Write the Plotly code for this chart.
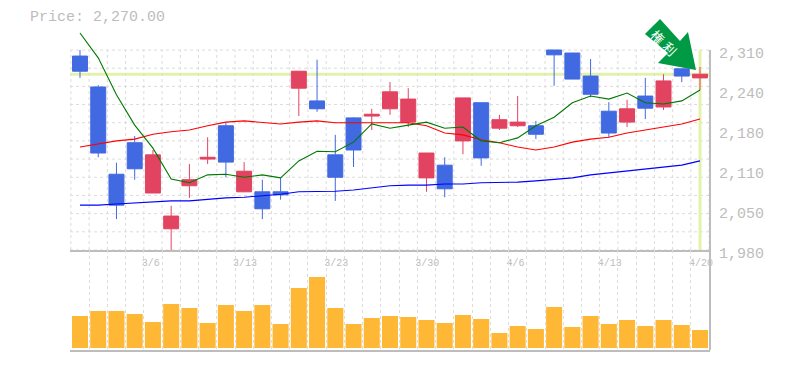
import plotly.graph_objects as go
from plotly.subplots import make_subplots

indices = list(range(35))
opens = [2300,2249,2105,2157,2074,2015,2086,2130,2185,2076,2076,2076,2247,2226,2137,2198,2201,2213,2191,2099,2120,2160,2223,2181,2185,2185,2310,2305,2267,2209,2191,2234,2216,2279,2264]
highs = [2310,2252,2124,2168,2145,2053,2122,2166,2190,2125,2096,2099,2275,2294,2170,2199,2213,2257,2247,2140,2133,2231,2223,2203,2234,2193,2310,2305,2295,2224,2228,2264,2270,2279,2282]
lows = [2264,2133,2031,2096,2074,1978,2066,2122,2100,2076,2031,2063,2201,2208,2061,2117,2178,2203,2183,2076,2067,2138,2119,2178,2183,2163,2251,2262,2232,2166,2183,2196,2211,2257,2244]
closes = [2275,2140,2054,2114,2137,2036,2096,2133,2125,2110,2048,2071,2275,2213,2100,2145,2204,2241,2229,2140,2081,2231,2132,2195,2191,2171,2302,2262,2237,2173,2213,2214,2259,2267,2270]
ma_short = [2338,2297,2236,2186,2148,2097,2091,2104,2105,2100,2104,2099,2127,2143,2142,2158,2188,2181,2186,2191,2181,2183,2160,2157,2165,2185,2199,2223,2234,2229,2239,2223,2221,2226,2244]
ma_mid = [2150,2155,2160,2163,2171,2175,2178,2185,2191,2193,2190,2188,2191,2193,2190,2190,2191,2191,2190,2185,2173,2170,2162,2157,2150,2145,2150,2158,2163,2166,2173,2178,2183,2188,2196]
ma_long = [2054,2054,2056,2058,2059,2061,2061,2064,2066,2067,2069,2072,2076,2076,2077,2079,2082,2086,2087,2087,2089,2089,2091,2091,2092,2094,2097,2099,2104,2107,2110,2114,2117,2120,2127]
volumes = [32,37,37,34,26,44,40,25,43,37,43,24,60,71,40,24,30,32,31,28,25,33,29,15,22,19,41,21,32,24,28,22,28,23,18]
date_ticks = [3.5,8.5,13.5,18.5,23.5,28.5,33.5]
date_labels = ["3/6","3/13","3/23","3/30","4/6","4/13","4/20"]
price_ticks = [1980,2046,2112,2178,2244,2310]
price_labels = ["1,980","2,050","2,110","2,180","2,240","2,310"]
grid_prices = [1980+30*i for i in range(12)]
current_price = 2270
price_title = "Price: 2,270.00"
badge_text = "権利"

W, H = 785, 370
L, R, T, B = 70, 710, 30, 350
MID = 250
PRICE_MIN, PRICE_TOP, PRICE_MAX = 1980, 2310, 2343
MONO = "Liberation Mono, monospace"
GREY = "#bdbdbd"
GRID = "#dcdcdc"
RED = "#e24361"
BLUE = "#4169e1"
DASH = "3px,3px"
HILITE = "#e3f2ab"

fig = make_subplots(rows=2, cols=1, shared_xaxes=False, vertical_spacing=0, row_heights=[MID - T, B - MID])

fig.add_trace(go.Candlestick(
    x=indices, open=opens, high=highs, low=lows, close=closes,
    increasing=dict(line=dict(color=RED, width=1), fillcolor=RED),
    decreasing=dict(line=dict(color=BLUE, width=1), fillcolor=BLUE),
    whiskerwidth=0, showlegend=False, hoverinfo="skip",
), row=1, col=1)
for vals, col in ((ma_long, "#0000ff"), (ma_mid, "#ff0000"), (ma_short, "#007800")):
    fig.add_trace(go.Scatter(x=indices, y=vals, mode="lines", line=dict(color=col, width=1.1),
                             showlegend=False, hoverinfo="skip"), row=1, col=1)
fig.add_trace(go.Bar(x=indices, y=volumes, marker=dict(color="#ffb835", line=dict(width=0)),
                     width=0.88, showlegend=False, hoverinfo="skip"), row=2, col=1)

xrange = [-0.548, 34.548]
grid_x = [i - 0.5 for i in range(36)]
fig.update_xaxes(range=xrange, showgrid=True, gridcolor=GRID, griddash=DASH, gridwidth=1, zeroline=False,
                 fixedrange=True, tickmode="array", tickvals=grid_x, showticklabels=False, ticks="",
                 showline=True, linecolor=GREY, linewidth=2, row=2, col=1)
fig.update_xaxes(range=xrange, showgrid=False, zeroline=False, rangeslider=dict(visible=False), fixedrange=True,
                 tickmode="array", tickvals=date_ticks, ticktext=date_labels,
                 ticks="", row=1, col=1, showline=True, linecolor=GREY, linewidth=2,
                 ticklabelposition="outside right", ticklabelstandoff=2, ticklabelshift=-3,
                 tickfont=dict(family=MONO, size=10, color=GREY))
fig.update_yaxes(range=[PRICE_MIN, PRICE_MAX], side="right", tickmode="array", tickvals=price_ticks, ticktext=price_labels,
                 tickfont=dict(family=MONO, size=15, color=GREY), showline=False,
                 showgrid=False, zeroline=False, ticks="", ticklabelshift=3, ticklabelstandoff=8,
                 fixedrange=True, row=1, col=1)
fig.update_yaxes(range=[-2, 98], side="right", showticklabels=False, showline=False,
                 showgrid=False, zeroline=False, ticks="", fixedrange=True, row=2, col=1)

shapes = []
for p in grid_prices:
    shapes.append(dict(type="line", xref="x domain", yref="y", x0=0, x1=1, y0=p, y1=p, layer="below",
                       line=dict(color=GRID, width=1, dash=DASH)))
for gx in grid_x:
    shapes.append(dict(type="line", xref="x", yref="y", x0=gx, x1=gx, y0=PRICE_MIN, y1=PRICE_TOP, layer="below",
                       line=dict(color=GRID, width=1, dash=DASH)))
shapes.append(dict(type="line", xref="x domain", yref="y", x0=0, x1=1, y0=current_price, y1=current_price,
                   layer="below", line=dict(color=HILITE, width=3)))
shapes.append(dict(type="line", xref="x", yref="y", x0=34, x1=34, y0=PRICE_MIN, y1=PRICE_TOP, layer="below",
                   line=dict(color=HILITE, width=3)))
def to_paper(px, py):
    return (px - L) / (R - L), (B - py) / (B - T)
ax0, ay0 = to_paper(R, 50)
ax1, ay1 = to_paper(R, B)
shapes.append(dict(type="line", xref="paper", yref="paper", x0=ax0, x1=ax1, y0=ay0, y1=ay1, layer="above",
                   line=dict(color=GREY, width=2)))
arrow_px = [(660, 19), (680, 41), (688, 32), (696, 70), (658, 63), (668, 53), (645, 34)]
path = "M " + " L ".join("%.4f,%.4f" % to_paper(*pt) for pt in arrow_px) + " Z"
shapes.append(dict(type="path", xref="paper", yref="paper", path=path, fillcolor="#009944",
                   line=dict(width=0), layer="above"))

tx, ty = to_paper(28, 18)
annotations = [dict(text=price_title, xref="paper", yref="paper", x=tx, y=ty,
                    xanchor="left", yanchor="middle", showarrow=False, font=dict(family=MONO, size=15, color=GREY))]
for ch, (px, py) in zip(badge_text, [(658, 36), (670, 48)]):
    bx, by = to_paper(px, py)
    annotations.append(dict(text=ch, xref="paper", yref="paper", x=bx, y=by, xanchor="center", yanchor="middle",
                            textangle=45, showarrow=False,
                            font=dict(family="Noto Sans CJK JP, sans-serif", size=13, color="#ffffff")))

fig.update_layout(width=W, height=H, margin=dict(l=L, r=W - R, t=T, b=H - B, pad=0, autoexpand=False), autosize=False,
                  paper_bgcolor="white", plot_bgcolor="rgba(0,0,0,0)", boxgap=0.18, boxgroupgap=0, bargap=0.12,
                  shapes=shapes, annotations=annotations, dragmode=False, hovermode=False)
fig.write_html("out.html", config=dict(displayModeBar=False),
               post_script="document.body.style.margin='0';document.documentElement.style.overflow='hidden';")
